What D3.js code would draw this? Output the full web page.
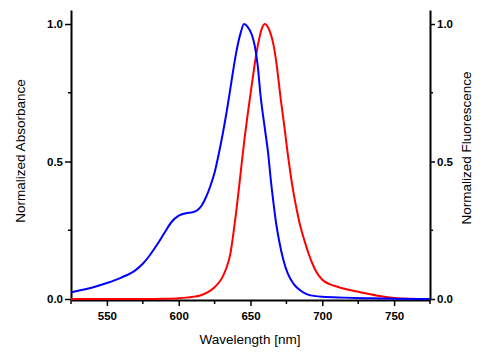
<!DOCTYPE html>
<html>
<head>
<meta charset="utf-8">
<script src="https://cdn.jsdelivr.net/npm/d3@7"></script>
<style>
  body { margin: 0; background: #fff; }
  svg text { font-family: "Liberation Sans", Arial, sans-serif; }
</style>
</head>
<body>
<div id="chart-area"></div>
<script>
var width = 484;
var height = 354;

// data: wavelength [nm] and normalized values
var absWl  = [525, 530, 540, 550, 560, 570, 575, 580, 585, 590, 595, 600, 605, 610, 613, 616, 619, 622, 625, 628, 631, 634, 637, 640, 643, 645.5, 648, 651, 653, 655, 657, 660, 662.5, 664, 666, 668, 670, 673, 676, 680, 685, 690, 700, 715, 730, 750, 775];
var absVal = [0.024, 0.030, 0.042, 0.058, 0.078, 0.105, 0.128, 0.160, 0.198, 0.240, 0.280, 0.303, 0.312, 0.316, 0.323, 0.340, 0.370, 0.410, 0.460, 0.530, 0.610, 0.700, 0.800, 0.895, 0.965, 1.0, 0.99, 0.96, 0.92, 0.85, 0.74, 0.62, 0.52, 0.44, 0.35, 0.27, 0.21, 0.14, 0.092, 0.055, 0.03, 0.016, 0.008, 0.005, 0.003, 0.001, 0.0];

var fluWl  = [525, 550, 575, 590, 600, 605, 610, 615, 620, 625, 630, 633, 636, 638, 640, 642, 644, 646, 648, 650, 652, 654, 656, 658, 660, 662, 664, 666, 668, 671, 674, 676, 678, 680, 682, 684, 686, 688, 690, 693, 696, 700, 705, 712, 720, 730, 740, 750, 760, 775];
var fluVal = [0, 0, 0, 0.001, 0.003, 0.005, 0.008, 0.013, 0.024, 0.043, 0.075, 0.11, 0.165, 0.235, 0.315, 0.405, 0.50, 0.59, 0.67, 0.745, 0.82, 0.89, 0.945, 0.985, 1.0, 0.99, 0.965, 0.925, 0.86, 0.73, 0.61, 0.525, 0.45, 0.385, 0.33, 0.28, 0.24, 0.205, 0.172, 0.13, 0.097, 0.07, 0.054, 0.042, 0.032, 0.021, 0.011, 0.004, 0.001, 0.0];

var xTicks = [550, 600, 650, 700, 750];
var xMinor = [525, 575, 625, 675, 725, 775];
var yTicks = [0, 0.5, 1.0];
var yMinor = [0.25, 0.75];

var svg = d3.select("#chart-area")
  .append("svg")
  .attr("width", width)
  .attr("height", height);

var x = d3.scaleLinear().domain([525, 775]).range([71, 430]);
var y = d3.scaleLinear().domain([0, 1.051]).range([299, 10]);

// axes
var xAxis = svg.append("g")
  .attr("transform", "translate(0,300)")
  .call(d3.axisBottom(x).tickValues(xTicks).tickSize(6).tickSizeOuter(0).tickFormat(d3.format("d")));
xAxis.append("g").selectAll("line")
  .data(xMinor).enter().append("line")
  .attr("x1", function(d) { return x(d); })
  .attr("x2", function(d) { return x(d); })
  .attr("y1", 0).attr("y2", 4);

var yLeft = svg.append("g")
  .attr("transform", "translate(71,0)")
  .call(d3.axisLeft(y).tickValues(yTicks).tickSize(6).tickSizeOuter(0).tickFormat(d3.format(".1f")));
yLeft.append("g").selectAll("line")
  .data(yMinor).enter().append("line")
  .attr("y1", function(d) { return y(d); })
  .attr("y2", function(d) { return y(d); })
  .attr("x1", 0).attr("x2", -3);

var yRight = svg.append("g")
  .attr("transform", "translate(430,0)")
  .call(d3.axisRight(y).tickValues(yTicks).tickSize(5).tickSizeOuter(0).tickFormat(d3.format(".1f")));
yRight.append("g").selectAll("line")
  .data(yMinor).enter().append("line")
  .attr("y1", function(d) { return y(d); })
  .attr("y2", function(d) { return y(d); })
  .attr("x1", 0).attr("x2", 3);

[xAxis, yLeft, yRight].forEach(function(g) {
  g.select(".domain").attr("stroke", "#000").attr("stroke-width", 2);
  g.selectAll("line").attr("stroke", "#000").attr("stroke-width", 1.5);
  g.selectAll("text")
    .attr("font-size", "11.5px")
    .attr("font-weight", "bold")
    .attr("fill", "#000");
});
xAxis.selectAll(".tick text").attr("dy", null).attr("y", 20);
yLeft.selectAll(".tick text").attr("x", -8);
yRight.selectAll(".tick text").attr("x", 7);

// curves
var line = d3.line()
  .x(function(d) { return x(d[0]); })
  .y(function(d) { return y(d[1]); })
  .curve(d3.curveMonotoneX);

svg.append("path")
  .datum(d3.zip(fluWl, fluVal))
  .attr("fill", "none")
  .attr("stroke", "#ff0000")
  .attr("stroke-width", 2)
  .attr("d", line);

svg.append("path")
  .datum(d3.zip(absWl, absVal))
  .attr("fill", "none")
  .attr("stroke", "#0000ff")
  .attr("stroke-width", 2)
  .attr("d", line);

// axis titles
svg.append("text")
  .attr("x", 250).attr("y", 344)
  .attr("text-anchor", "middle")
  .attr("font-size", "13.5px")
  .text("Wavelength [nm]");

svg.append("text")
  .attr("transform", "translate(25,151) rotate(-90)")
  .attr("text-anchor", "middle")
  .attr("font-size", "13.5px")
  .text("Normalized Absorbance");

svg.append("text")
  .attr("transform", "translate(471,148) rotate(-90)")
  .attr("text-anchor", "middle")
  .attr("font-size", "13.5px")
  .text("Normalized Fluorescence");
</script>
</body>
</html>
